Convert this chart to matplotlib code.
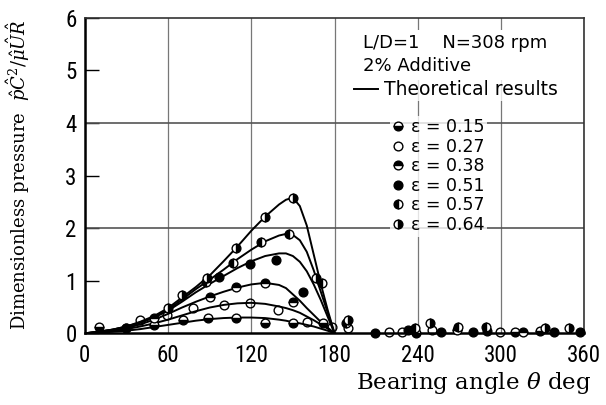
import matplotlib
matplotlib.use("Agg")
import matplotlib.pyplot as plt
from matplotlib.lines import Line2D
from matplotlib import font_manager

# Theoretical pressure distributions (bearing angle in deg)
theta_theory = [0, 10, 20, 30, 40, 50, 60, 70, 80, 90, 100, 110, 120, 130,
                140, 145, 150, 155, 160, 165, 170, 175, 180]
p_theory_015 = [0, 0.01, 0.03, 0.05, 0.08, 0.12, 0.16, 0.20, 0.24, 0.27, 0.29, 0.30, 0.30, 0.29,
                0.26, 0.24, 0.21, 0.19, 0.16, 0.13, 0.09, 0.05, 0]
p_theory_027 = [0, 0.02, 0.04, 0.08, 0.13, 0.19, 0.26, 0.34, 0.42, 0.49, 0.54, 0.57, 0.58, 0.56,
                0.51, 0.48, 0.44, 0.39, 0.32, 0.25, 0.17, 0.09, 0]
p_theory_038 = [0, 0.02, 0.05, 0.10, 0.17, 0.26, 0.37, 0.49, 0.60, 0.70, 0.79, 0.87, 0.93, 0.96,
                0.92, 0.86, 0.74, 0.62, 0.48, 0.35, 0.22, 0.11, 0]
p_theory_051 = [0, 0.03, 0.07, 0.12, 0.20, 0.30, 0.43, 0.60, 0.78, 0.94, 1.09, 1.24, 1.37, 1.47,
                1.52, 1.52, 1.47, 1.36, 1.18, 0.93, 0.64, 0.32, 0]
p_theory_057 = [0, 0.03, 0.07, 0.13, 0.21, 0.31, 0.45, 0.64, 0.84, 1.02, 1.21, 1.41, 1.59, 1.75,
                1.86, 1.89, 1.87, 1.77, 1.55, 1.20, 0.80, 0.40, 0]
p_theory_064 = [0, 0.03, 0.07, 0.13, 0.22, 0.33, 0.48, 0.68, 0.88, 1.10, 1.37, 1.65, 1.95, 2.22,
                2.45, 2.54, 2.58, 2.42, 2.05, 1.50, 0.95, 0.45, 0]

# Measured pressures
theta_015 = [10, 30, 50, 71, 89, 109, 130, 150, 172, 239, 310, 328]
p_015 = [0.12, 0.10, 0.16, 0.26, 0.30, 0.30, 0.20, 0.20, 0.20, 0.01, 0.02, 0.04]
theta_027 = [40, 59, 78, 100, 119, 139, 160, 178, 190, 219, 229, 250, 299]
p_027 = [0.26, 0.35, 0.48, 0.54, 0.58, 0.45, 0.22, 0.12, 0.10, 0.03, 0.03, 0.07, 0.02]
theta_038 = [50, 90, 109, 130, 150, 268, 316]
p_038 = [0.30, 0.69, 0.89, 0.96, 0.60, 0.07, 0.02]
theta_051 = [30, 97, 119, 138, 157, 209, 233, 257, 280, 290, 338, 357]
p_051 = [0.10, 1.08, 1.31, 1.40, 0.79, 0.00, 0.06, 0.03, 0.03, 0.04, 0.03, 0.02]
theta_057 = [87, 107, 127, 147, 171, 188, 238, 269, 289]
p_057 = [0.98, 1.34, 1.74, 1.89, 0.96, 0.20, 0.10, 0.12, 0.12]
theta_064 = [60, 70, 88, 109, 130, 150, 167, 190, 249, 332, 349]
p_064 = [0.48, 0.73, 1.05, 1.63, 2.22, 2.58, 1.05, 0.25, 0.20, 0.10, 0.10]

eps_labels = ["0.15", "0.27", "0.38", "0.51", "0.57", "0.64"]
x_ticks = [0, 60, 120, 180, 240, 300, 360]
y_ticks = [0, 1, 2, 3, 4, 5, 6]

installed = {f.name for f in font_manager.fontManager.ttflist}
narrow = next((n for n in ["Liberation Sans Narrow", "Roboto Condensed", "Open Sans Condensed",
                           "DejaVu Sans Condensed"] if n in installed), "Liberation Sans")
sans = [narrow, "DejaVu Sans"]
plt.rcParams["mathtext.fontset"] = "dejavuserif"


def sans_prop(size):
    return font_manager.FontProperties(family=sans, size=size, stretch="condensed")


def wide_prop(size):
    return font_manager.FontProperties(family=["DejaVu Sans"], size=size)


fig = plt.figure(figsize=(6.06, 4.05), dpi=100)
ax = fig.add_axes([0.140, 0.177, 0.824, 0.779])
ax.set_xlim(0, 360)
ax.set_ylim(0, 6)

# grid: verticals at every labelled angle, horizontals at 2 and 4 only
ax.set_xticks(x_ticks)
ax.set_yticks(y_ticks)
ax.yaxis.remove_overlapping_locs = False
ax.set_yticks([2, 4], minor=True)
ax.grid(axis="x", which="major", color="#777777", lw=0.9, zorder=0)
ax.grid(axis="y", which="minor", color="#555555", lw=1.2, zorder=0)
ax.tick_params(axis="y", which="major", direction="in", length=10, width=1.0, pad=6)
ax.tick_params(axis="y", which="minor", length=0)
ax.tick_params(axis="x", which="major", length=0, pad=8)
for lab in ax.get_xticklabels() + ax.get_yticklabels():
    lab.set_fontproperties(sans_prop(16.5))

for side in ["left", "bottom"]:
    ax.spines[side].set_linewidth(1.8)
for side in ["top", "right"]:
    ax.spines[side].set_linewidth(1.2)
    ax.spines[side].set_color("#333333")

theory = [p_theory_015, p_theory_027, p_theory_038, p_theory_051, p_theory_057, p_theory_064]
for p in theory:
    ax.plot(theta_theory, p, color="black", lw=1.4, zorder=3)

fills = ["bottom", "none", "top", "full", "left", "right"]
measured = [(theta_015, p_015), (theta_027, p_027), (theta_038, p_038),
            (theta_051, p_051), (theta_057, p_057), (theta_064, p_064)]
handles = []
for (th, p), fs, lab in zip(measured, fills, eps_labels):
    style = dict(marker="o", ms=6.3, mec="black", mew=1.0, fillstyle=fs,
                 mfc="black" if fs != "none" else "white", mfcalt="white")
    ax.plot(th, p, ls="none", zorder=4, clip_on=False, **style)
    handles.append(Line2D([], [], ls="none", **style, label="ε = " + lab))

# test-condition block
ax.text(0.557, 0.883, "L/D=1    N=308 rpm\n2% Additive", transform=ax.transAxes,
        fontproperties=wide_prop(13), va="center", ha="left", linespacing=1.35, zorder=6,
        bbox=dict(boxstyle="square,pad=0.25", fc="white", ec="none"))
leg_t = ax.legend(handles=[Line2D([], [], color="black", lw=1.4)], labels=["Theoretical results"],
                  loc="upper left", bbox_to_anchor=(0.535, 0.808), frameon=True,
                  handlelength=1.3, handletextpad=0.3, borderpad=0.1, borderaxespad=0,
                  prop=wide_prop(13.5))
leg_t.get_frame().set_edgecolor("none")
leg_t.set_zorder(6)
ax.add_artist(leg_t)

leg = ax.legend(handles=handles, loc="upper left", bbox_to_anchor=(0.612, 0.69),
                frameon=True, handlelength=0.6, handletextpad=0.45, labelspacing=0.09,
                borderpad=0.15, borderaxespad=0, prop=wide_prop(12.5))
leg.get_frame().set_edgecolor("none")
leg.set_zorder(6)

fig.text(0.03, 0.568, r"Dimensionless pressure  $\hat{p}\hat{C}^2/\hat{\mu}\hat{U}\hat{R}$",
         rotation=90, ha="center", va="center", family="DejaVu Serif", fontsize=13)
fig.text(0.975, 1 - 383 / 405, r"Bearing angle $\theta$ deg", ha="right", va="center",
         family="DejaVu Serif", fontsize=16.5)

fig.savefig("out.png", dpi=100)
